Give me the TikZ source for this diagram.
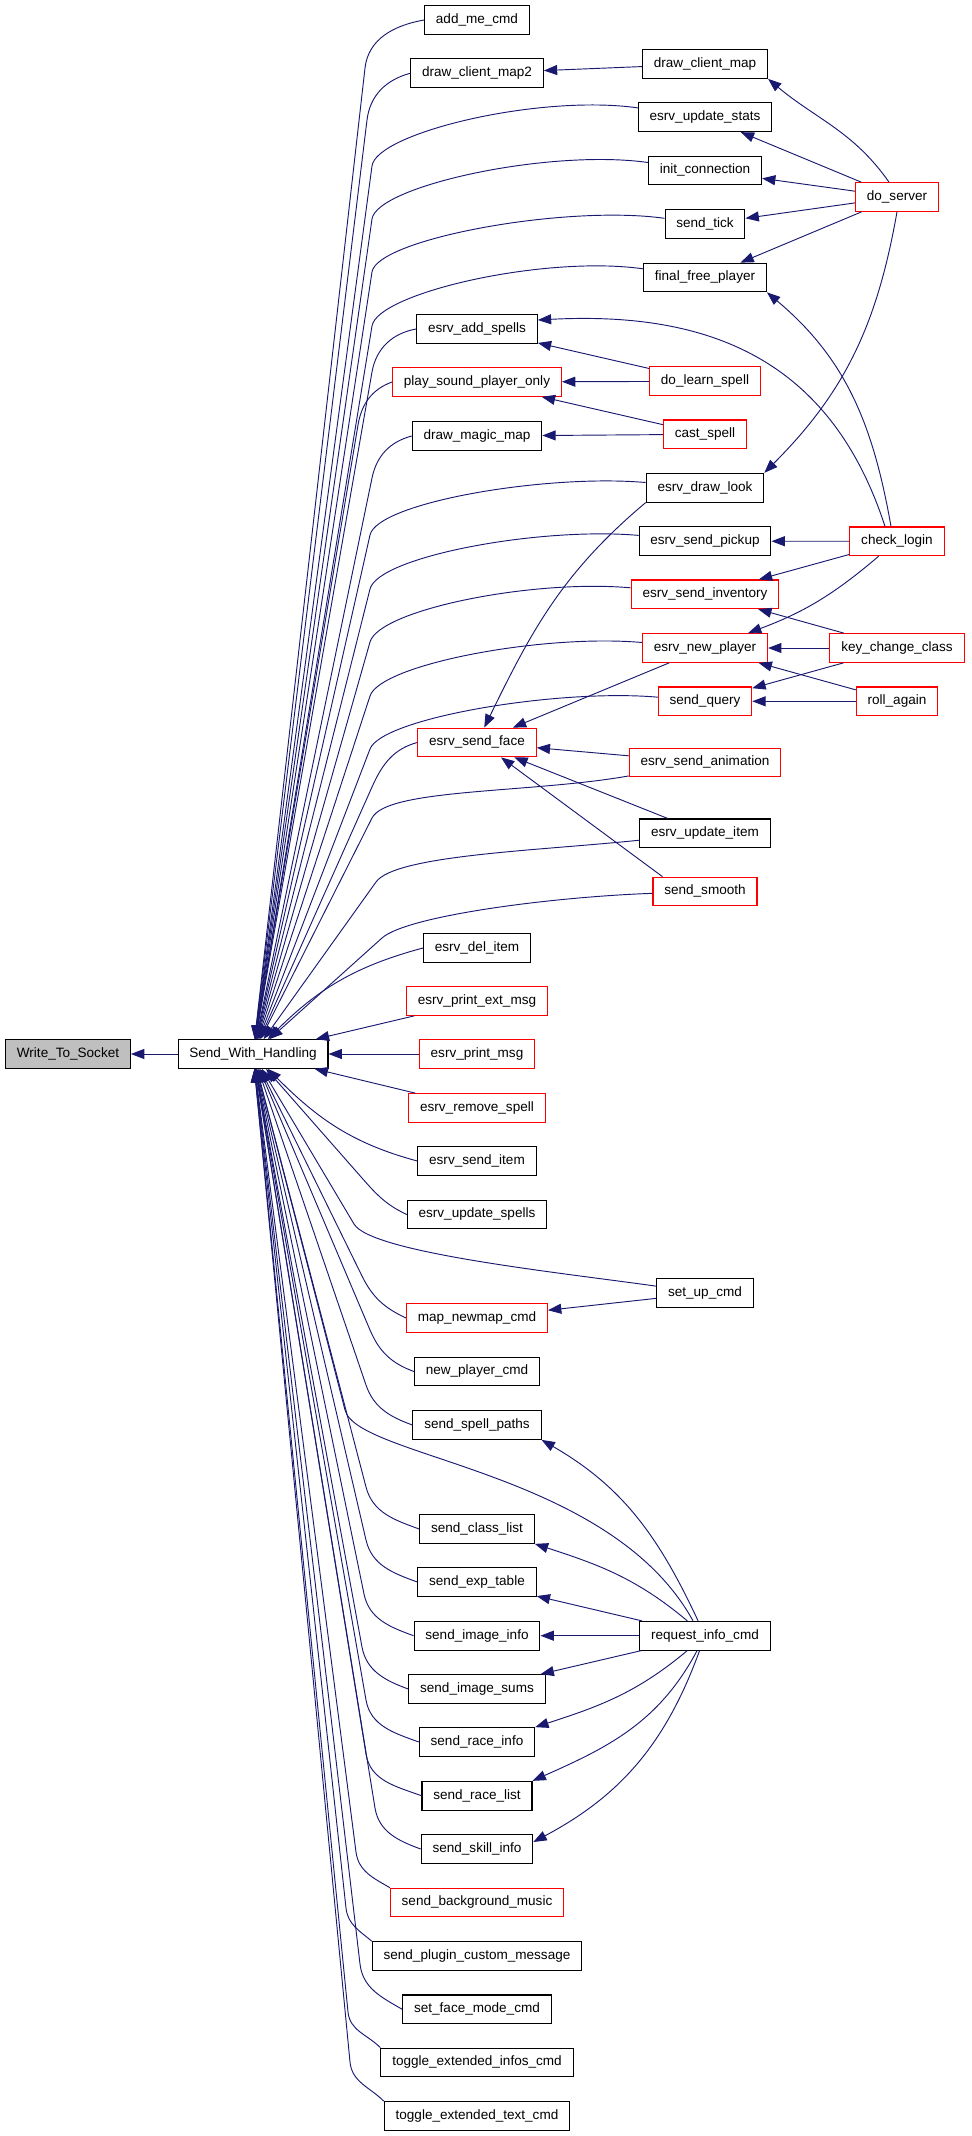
\documentclass[tikz,border=0pt]{standalone}
\usepackage{fontspec}
\setmainfont{Liberation Sans}
\usetikzlibrary{arrows.meta,calc}
\definecolor{callblue}{HTML}{191970}
\definecolor{rootgray}{HTML}{BFBFBF}
\tikzset{
  fn/.style={draw=black,line width=0.8pt,fill=white,inner xsep=8.5pt,inner ysep=0pt,
    minimum height=21.5pt,text height=7.4pt,text depth=2.3pt,
    font=\fontsize{10.16pt}{12pt}\selectfont},
  fnred/.style={fn,draw=red},
  fnroot/.style={fn,fill=rootgray},
  call/.style={draw=callblue,line width=0.7pt,-{Triangle[length=10pt,width=7.5pt]}},
}
\begin{document}
\begin{tikzpicture}[x=0.75pt,y=-0.75pt]
\useasboundingbox (0,0) rectangle (971,2136);

%ROOT
\node[fnroot] (wts) at (68,1054) {Write\_To\_Socket};
\node[fn] (swh) at (253,1054) {Send\_With\_Handling};

%FIRST CALLERS
\foreach \nm/\yy/\st/\txt in {
  addme/20/fn/add\_me\_cmd, dcmtwo/73.3/fn/draw\_client\_map2,
  addspells/329/fn/esrv\_add\_spells, playsound/382/fnred/play\_sound\_player\_only,
  magicmap/436/fn/draw\_magic\_map, sendface/742.5/fnred/esrv\_send\_face,
  delitem/948/fn/esrv\_del\_item, printext/1001/fnred/esrv\_print\_ext\_msg,
  printmsg/1054/fnred/esrv\_print\_msg, rmspell/1108/fnred/esrv\_remove\_spell,
  senditem/1161/fn/esrv\_send\_item, updspells/1214.5/fn/esrv\_update\_spells,
  newmap/1318/fnred/map\_newmap\_cmd, newplcmd/1371.5/fn/new\_player\_cmd,
  spellpaths/1425/fn/send\_spell\_paths, classlist/1529/fn/send\_class\_list,
  exptable/1582/fn/send\_exp\_table, imginfo/1635.7/fn/send\_image\_info,
  imgsums/1689/fn/send\_image\_sums, raceinfo/1742/fn/send\_race\_info,
  racelist/1795.7/fn/send\_race\_list, skillinfo/1849/fn/send\_skill\_info,
  bgmusic/1902.5/fnred/send\_background\_music, plugin/1956/fn/send\_plugin\_custom\_message,
  facemode/2009.3/fn/set\_face\_mode\_cmd, extinfos/2062.5/fn/toggle\_extended\_infos\_cmd,
  exttext/2116/fn/toggle\_extended\_text\_cmd}
  \node[\st] (\nm) at (477,\yy) {\txt};

%SECOND CALLERS
\foreach \nm/\yy/\st/\txt in {
  clientmap/64/fn/draw\_client\_map, updstats/117.3/fn/esrv\_update\_stats,
  initconn/170.5/fn/init\_connection, sendtick/224/fn/send\_tick,
  freeplayer/277.5/fn/final\_free\_player, learnspell/381.3/fnred/do\_learn\_spell,
  castspell/434.3/fnred/cast\_spell, drawlook/487.7/fn/esrv\_draw\_look,
  pickup/541.2/fn/esrv\_send\_pickup, inventory/594.3/fnred/esrv\_send\_inventory,
  newplayer/648/fnred/esrv\_new\_player, query/701.3/fnred/send\_query,
  animation/762.5/fnred/esrv\_send\_animation, upditem/833.3/fn/esrv\_update\_item,
  smooth/891.5/fnred/send\_smooth, setup/1293/fn/set\_up\_cmd,
  reqinfo/1635.7/fn/request\_info\_cmd}
  \node[\st] (\nm) at (705,\yy) {\txt};

%THIRD CALLERS
\foreach \nm/\yy/\txt in {doserver/197/do\_server, checklogin/541.3/check\_login,
  keyclass/648/key\_change\_class, rollagain/701.3/roll\_again}
  \node[fnred] (\nm) at (897,\yy) {\txt};

%EDGES INTO Send_With_Handling
\draw[call] (swh) -- (wts);
\foreach \nm/\an/\ang/\kx/\ky in {
  addme/west/190/365/68, dcmtwo/west/195/367/120, addspells/west/190/372/372,
  playsound/west/200/358/425, magicmap/west/195/372/478, sendface/west/195/372/787,
  updspells/west/155/362/1178, newmap/west/155/362/1276, newplcmd/west/160/370/1330,
  spellpaths/west/160/366/1385, classlist/west/160/366/1487, exptable/west/160/366/1540,
  imginfo/west/160/364/1594, imgsums/west/160/362/1647, raceinfo/west/160/366/1700,
  racelist/west/160/366/1754, skillinfo/west/160/375/1808, bgmusic/north west/150/356/1852,
  plugin/north west/140/346/1908, facemode/west/150/360/1964,
  extinfos/north west/135/348/2012, exttext/north west/135/350/2062}
  \draw[call] let \p1=(\kx,\ky), \p2=(swh.center), \n1={atan2(\y1-\y2,\x1-\x2)} in
    (\nm.\an) to[out=\ang,in=\n1] (\p1) -- (swh);
\foreach \nm/\ang/\kx/\ky in {
  updstats/172/372/166, initconn/172/372/219, sendtick/172/372/272, freeplayer/172/372/326,
  drawlook/175/370/535, pickup/175/370/589, inventory/175/370/642, newplayer/175/370/696,
  query/175/370/749, animation/190/372/818, upditem/186/376/882, smooth/182/382/938,
  setup/172/354/1224}
  \draw[call] let \p1=(\kx,\ky), \p2=(swh.center), \n1={atan2(\y1-\y2,\x1-\x2)} in
    (\nm) to[out=\ang,in=\n1,out distance=75pt,in distance=25pt] (\p1) -- (swh);
\draw[call] (delitem.west) to[out=195,in=45] (swh);
\foreach \nm in {printext,printmsg,rmspell}
  \draw[call] (\nm) -- (swh);
\draw[call] (senditem.west) to[out=165,in=-45] (swh);
\draw[call] ($(reqinfo.north)+(-12,0)$) .. controls (610,1470) and (357,1458) .. (345,1410) -- (swh);

%EDGES BETWEEN CALLERS
\draw[call] (clientmap) -- (dcmtwo);
\draw[call] ($(doserver.north)+(-8,0)$) to[out=125,in=-40] (clientmap.south east);
\foreach \nm in {updstats,initconn,sendtick,freeplayer}
  \draw[call] (doserver) -- (\nm);
\draw[call] (doserver.south) to[out=-100,in=45] (drawlook.north east);
\draw[call] ($(checklogin.north)+(-6,0)$) to[out=100,in=-40] (freeplayer.south east);
\draw[call] ($(checklogin.north)+(-12,0)$) to[out=108,in=3,looseness=1.1] ($(addspells.east)+(0,-9)$);
\draw[call] (learnspell) -- (addspells);
\draw[call] (learnspell) -- (playsound);
\draw[call] (castspell) -- (playsound);
\draw[call] (castspell) -- (magicmap);
\draw[call] (checklogin) -- (pickup);
\draw[call] (checklogin) -- (inventory);
\draw[call] (checklogin) to[bend left=10] (newplayer);
\draw[call] (keyclass) -- (inventory);
\draw[call] (keyclass) -- (newplayer);
\draw[call] (keyclass) -- (query);
\draw[call] (rollagain) -- (newplayer);
\draw[call] (rollagain) -- (query);
\draw[call] (drawlook.south west) to[out=-140,in=64] (sendface);
\draw[call] (newplayer) -- (sendface);
\draw[call] (animation) -- (sendface);
\draw[call] (upditem) -- (sendface);
\draw[call] ($(smooth.north west)+(10,0)$) -- ($(sendface.south)+(24,0)$);
\draw[call] (setup) -- (newmap);
\draw[call] (reqinfo) to[out=115,in=-30] (spellpaths.south east);
\draw[call] (reqinfo) to[out=140,in=-18] (classlist.south east);
\draw[call] (reqinfo) -- (exptable);
\draw[call] (reqinfo) -- (imginfo);
\draw[call] (reqinfo) -- (imgsums);
\draw[call] (reqinfo) to[out=-140,in=18] (raceinfo.north east);
\draw[call] (reqinfo) to[out=-118,in=24] (racelist.north east);
\draw[call] (reqinfo) to[out=-110,in=28] ($(skillinfo.east)+(0,-7)$);
\end{tikzpicture}
\end{document}
